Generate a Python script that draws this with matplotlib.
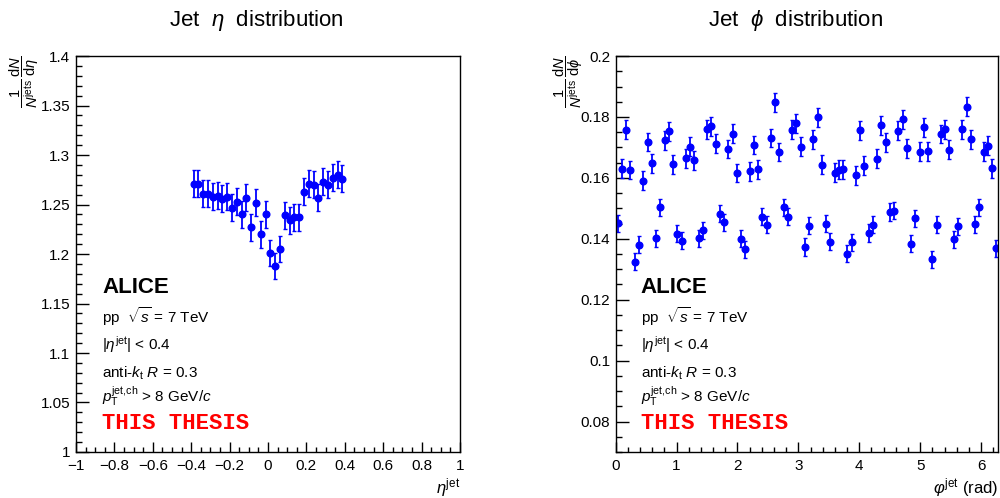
"""Jet eta / phi distributions, ALICE-style two-panel figure."""

import numpy as np
import matplotlib

matplotlib.use("Agg")
import matplotlib.pyplot as plt
from matplotlib.ticker import MultipleLocator, FuncFormatter

plt.rcParams["font.family"] = ["Liberation Sans", "DejaVu Sans"]
plt.rcParams["mathtext.fontset"] = "custom"
plt.rcParams["mathtext.rm"] = "Liberation Sans"
plt.rcParams["mathtext.it"] = "Liberation Sans:italic"
plt.rcParams["mathtext.bf"] = "Liberation Sans:bold"
plt.rcParams["mathtext.sf"] = "Liberation Sans"

# --- data -----------------------------------------------------------------
eta_centers = np.arange(-0.3875, 0.39, 0.025)
eta_values = [
    1.271, 1.271, 1.261, 1.261, 1.258, 1.259, 1.256, 1.258,
    1.247, 1.253, 1.240, 1.257, 1.227, 1.252, 1.220, 1.240,
    1.201, 1.188, 1.205, 1.239, 1.234, 1.237, 1.237, 1.263,
    1.271, 1.270, 1.257, 1.273, 1.270, 1.277, 1.280, 1.276,
]
eta_errors = [0.0135] * 32

n_phi = 90
phi_centers = (np.arange(n_phi) + 0.5) * 2 * np.pi / n_phi
phi_values = [
    0.1451, 0.1630, 0.1758, 0.1626, 0.1324, 0.1380, 0.1590, 0.1718, 0.1648, 0.1402,
    0.1503, 0.1724, 0.1753, 0.1644, 0.1417, 0.1393, 0.1665, 0.1702, 0.1658, 0.1402,
    0.1428, 0.1759, 0.1769, 0.1712, 0.1482, 0.1454, 0.1695, 0.1745, 0.1616, 0.1400,
    0.1365, 0.1621, 0.1708, 0.1629, 0.1472, 0.1446, 0.1731, 0.1849, 0.1685, 0.1503,
    0.1472, 0.1758, 0.1780, 0.1702, 0.1373, 0.1443, 0.1727, 0.1799, 0.1643, 0.1449,
    0.1390, 0.1617, 0.1627, 0.1629, 0.1351, 0.1389, 0.1609, 0.1757, 0.1640, 0.1419,
    0.1446, 0.1663, 0.1773, 0.1717, 0.1488, 0.1492, 0.1755, 0.1792, 0.1697, 0.1384,
    0.1467, 0.1686, 0.1766, 0.1688, 0.1333, 0.1446, 0.1744, 0.1759, 0.1692, 0.1398,
    0.1441, 0.1760, 0.1833, 0.1727, 0.1447, 0.1503, 0.1686, 0.1706, 0.1631, 0.1369,
]
phi_errors = [0.0031 if v > 0.155 else 0.0028 for v in phi_values]

info_lines = [
    r"pp  $\sqrt{s}$ = 7 TeV",
    r"|$\eta^{\mathrm{jet}}$| < 0.4",
    r"anti-$k_{\mathrm{t}}$ $R$ = 0.3",
    r"$p_{\mathrm{T}}^{\mathrm{jet{,}ch}}$ > 8 GeV/$c$",
]
info_y = [0.326, 0.258, 0.189, 0.127]


def _fmt(v, _pos):
    s = "%g" % round(v, 6)
    return s.replace("-", "\u2212")


def _style(ax, xmaj, xmin, ymaj, ymin):
    ax.xaxis.set_major_locator(MultipleLocator(xmaj))
    ax.xaxis.set_minor_locator(MultipleLocator(xmin))
    ax.yaxis.set_major_locator(MultipleLocator(ymaj))
    ax.yaxis.set_minor_locator(MultipleLocator(ymin))
    ax.xaxis.set_major_formatter(FuncFormatter(_fmt))
    ax.yaxis.set_major_formatter(FuncFormatter(_fmt))
    ax.tick_params(which="both", direction="in", top=False, right=False,
                   labelsize=11, width=1.0, colors="black")
    ax.tick_params(axis="y", which="major", length=9, pad=4)
    ax.tick_params(axis="y", which="minor", length=4.5)
    ax.tick_params(axis="x", which="major", length=7, pad=5)
    ax.tick_params(axis="x", which="minor", length=3.5)
    for sp in ax.spines.values():
        sp.set_linewidth(1.0)


def _info(ax, x0):
    ax.text(x0, 0.4015, "ALICE", transform=ax.transAxes, fontsize=16,
            fontweight="bold", va="baseline", ha="left")
    for line, y in zip(info_lines, info_y):
        ax.text(x0, y, line, transform=ax.transAxes, fontsize=11,
                va="baseline", ha="left")
    ax.text(x0, 0.058, "THIS THESIS", transform=ax.transAxes, color="red",
            fontsize=16, fontweight="bold", family="Liberation Mono",
            va="baseline", ha="left")


fig = plt.figure(figsize=(10, 4.98), dpi=100)
ax1 = fig.add_axes([0.076, 0.0924, 0.384, 0.795])
ax2 = fig.add_axes([0.6156, 0.0924, 0.3828, 0.795])

eb = dict(fmt="o", color="blue", ms=4.8, elinewidth=1.3, capsize=1.3,
          capthick=1.0, mec="blue", mfc="blue")
ax1.errorbar(eta_centers, eta_values, yerr=eta_errors, **eb)
ax1.set_xlim(-1, 1)
ax1.set_ylim(1.0, 1.4)
_style(ax1, 0.2, 0.05, 0.05, 0.01)
_info(ax1, 0.068)
ax1.text(1.0, -0.062, r"$\eta^{\mathrm{jet}}$", transform=ax1.transAxes,
         fontsize=12, ha="right", va="top")
ax1.text(-0.135, 1.0, r"$\dfrac{1}{N^{\mathrm{jets}}}\,\dfrac{\mathrm{d}N}{\mathrm{d}\eta}$",
         transform=ax1.transAxes, rotation=90, fontsize=10.5, ha="center", va="top")

ax2.errorbar(phi_centers, phi_values, yerr=phi_errors, **eb)
ax2.set_xlim(0, 2 * np.pi)
ax2.set_ylim(0.07, 0.2)
_style(ax2, 1, 0.2, 0.02, 0.005)
_info(ax2, 0.066)
ax2.text(1.0, -0.062, r"$\varphi^{\mathrm{jet}}$ (rad)", transform=ax2.transAxes,
         fontsize=12, ha="right", va="top")
ax2.text(-0.125, 1.0, r"$\dfrac{1}{N^{\mathrm{jets}}}\,\dfrac{\mathrm{d}N}{\mathrm{d}\phi}$",
         transform=ax2.transAxes, rotation=90, fontsize=10.5, ha="center", va="top")

fig.text(0.256, 1 - 20 / 498, r"Jet  $\eta$  distribution", fontsize=16,
         ha="center", va="center")
fig.text(0.795, 1 - 20 / 498, r"Jet  $\phi$  distribution", fontsize=16,
         ha="center", va="center")

fig.savefig("out.png", dpi=100)
